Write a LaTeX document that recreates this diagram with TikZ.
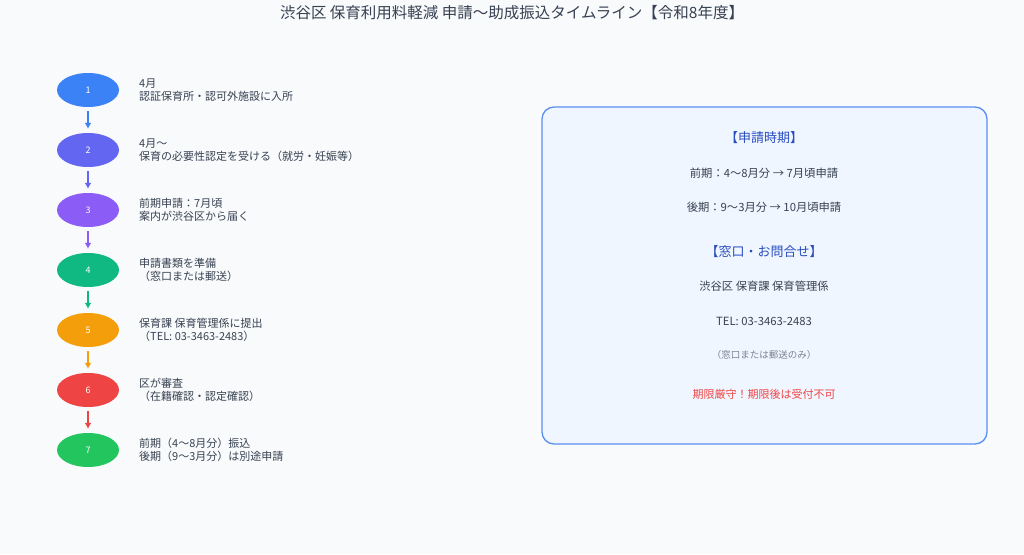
\documentclass[tikz,border=0pt]{standalone}
\usepackage{fontspec}
\setmainfont{Noto Sans CJK JP}
\usepackage{tikz}
\usetikzlibrary{shapes.geometric,arrows.meta,positioning}

\definecolor{bgcol}{HTML}{F8FAFC}
\definecolor{txtcol}{HTML}{374151}
\definecolor{c1}{HTML}{3B82F6}
\definecolor{c2}{HTML}{6366F1}
\definecolor{c3}{HTML}{8B5CF6}
\definecolor{c4}{HTML}{10B981}
\definecolor{c5}{HTML}{F59E0B}
\definecolor{c6}{HTML}{EF4444}
\definecolor{c7}{HTML}{22C55E}
\definecolor{panelfill}{HTML}{EFF6FF}
\definecolor{panelline}{HTML}{5B8FEF}
\definecolor{headcol}{HTML}{2A4DBF}
\definecolor{notecol}{HTML}{7B8494}
\definecolor{warncol}{HTML}{EF4444}

\begin{document}
\begin{tikzpicture}[x=1pt, y=-1pt,
	stepnode/.style={ellipse, minimum width=62pt, minimum height=34pt, inner sep=0pt, text=white, font=\fontsize{9}{11}\selectfont},
	desc/.style={anchor=west, align=left, inner sep=0pt, text=txtcol, font=\fontsize{11}{13}\selectfont},
	link/.style={-{Latex[length=6pt,width=7pt]}, line width=1.8pt, shorten <=4pt, shorten >=4pt},
	panelhead/.style={text=headcol, font=\fontsize{13}{15}\selectfont},
	paneltext/.style={text=txtcol, font=\fontsize{11.3}{13}\selectfont}
]
\fill[bgcol] (0,0) rectangle (1024,554);
\useasboundingbox (0,0) rectangle (1024,554);

\node (title) [text=txtcol, font=\fontsize{15.5}{18}\selectfont] at (512,13) {渋谷区 保育利用料軽減 申請〜助成振込タイムライン【令和8年度】};

% timeline steps
\foreach \i/\y/\la/\lb in {
	1/90/4月/認証保育所・認可外施設に入所,
	2/150/4月〜/保育の必要性認定を受ける（就労・妊娠等）,
	3/210/前期申請：7月頃/案内が渋谷区から届く,
	4/270/申請書類を準備/（窓口または郵送）,
	5/330/保育課 保育管理係に提出/（TEL: 03-3463-2483）,
	6/390/区が審査/（在籍確認・認定確認）,
	7/450/前期（4〜8月分）振込/後期（9〜3月分）は別途申請}
{
	\node (s\i) [stepnode, fill=c\i] at (88,\y) {\i};
	\node (t\i) [desc] at (139,\y) {\la\\\lb};
}

\foreach \a/\b in {1/2,2/3,3/4,4/5,5/6,6/7}
	\draw[link, draw=c\a] (s\a) -- (s\b);

% info panel
\node (panel) [draw=panelline, fill=panelfill, line width=1.3pt, rounded corners=12pt, minimum width=445pt, minimum height=337pt] at (764.5,275.5) {};
\node (head1) [panelhead] at (764,138) {【申請時期】};
\node (early) [paneltext] at (764,173) {前期：4〜8月分 → 7月頃申請};
\node (late) [paneltext] at (764,207) {後期：9〜3月分 → 10月頃申請};
\node (head2) [panelhead] at (764,252) {【窓口・お問合せ】};
\node (office) [paneltext] at (764,286) {渋谷区 保育課 保育管理係};
\node (tel) [paneltext] at (764,321) {TEL: 03-3463-2483};
\node (via) [text=notecol, font=\fontsize{9.5}{11}\selectfont] at (764,355) {（窓口または郵送のみ）};
\node (warn) [text=warncol, font=\fontsize{11}{13}\selectfont] at (764,394) {期限厳守！期限後は受付不可};
\end{tikzpicture}
\end{document}
